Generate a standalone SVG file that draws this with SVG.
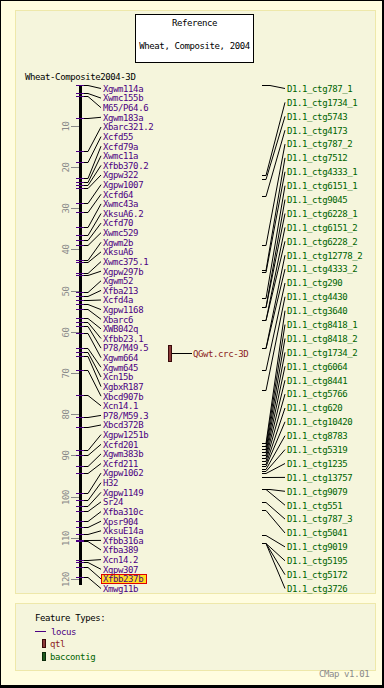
<svg xmlns="http://www.w3.org/2000/svg" width="384" height="688" viewBox="0 0 384 688">
<style>
text{font-family:"DejaVu Sans Mono","Liberation Mono",monospace;font-size:9px;letter-spacing:-0.4px}
.loc{fill:#4b0082}
.ctg{fill:#006400}
.blk{fill:#000}
.sc{fill:#8a8a8a}
.conn polyline,.conn line{stroke:#000;stroke-width:1;fill:none}
.tk{stroke:#4b0082;stroke-width:1}
.mj{stroke:#8a8a8a;stroke-width:1}
.panel{fill:#f5f5dc;stroke:#eee8aa;stroke-width:1}
</style>
<rect x="0.5" y="0.5" width="383" height="687" fill="#fffde0" stroke="#000" stroke-width="1"/>
<line x1="383" y1="0" x2="383" y2="688" stroke="#000" stroke-width="2"/>
<line x1="0" y1="686.5" x2="384" y2="686.5" stroke="#000" stroke-width="3"/>
<rect class="panel" x="15.5" y="10.5" width="360" height="583"/>
<rect class="panel" x="15.5" y="603.5" width="360" height="67"/>

<g id="title">
<rect x="135.5" y="14.5" width="118" height="48" fill="#fff" stroke="#000"/>
<text class="blk" x="194.5" y="26" text-anchor="middle">Reference</text>
<text class="blk" x="194.5" y="49.3" text-anchor="middle">Wheat, Composite, 2004</text>
</g>

<g id="map-title"><text class="blk" x="25" y="80">Wheat-Composite2004-3D</text></g>

<g id="axis">
<rect x="79" y="85" width="3" height="500" fill="#000"/>
<g class="mj">
<line x1="71" y1="126.5" x2="79" y2="126.5"/><line x1="71" y1="167.5" x2="79" y2="167.5"/>
<line x1="71" y1="208.5" x2="79" y2="208.5"/><line x1="71" y1="249.5" x2="79" y2="249.5"/>
<line x1="71" y1="291.5" x2="79" y2="291.5"/><line x1="71" y1="332.5" x2="79" y2="332.5"/>
<line x1="71" y1="373.5" x2="79" y2="373.5"/><line x1="71" y1="414.5" x2="79" y2="414.5"/>
<line x1="71" y1="455.5" x2="79" y2="455.5"/><line x1="71" y1="497.5" x2="79" y2="497.5"/>
<line x1="71" y1="538.5" x2="79" y2="538.5"/><line x1="71" y1="579.5" x2="79" y2="579.5"/>
</g>
<g class="sc" text-anchor="middle">
<text transform="translate(68.5,126.5) rotate(-90)">10</text>
<text transform="translate(68.5,167.5) rotate(-90)">20</text>
<text transform="translate(68.5,208.5) rotate(-90)">30</text>
<text transform="translate(68.5,249.5) rotate(-90)">40</text>
<text transform="translate(68.5,291.5) rotate(-90)">50</text>
<text transform="translate(68.5,332.5) rotate(-90)">60</text>
<text transform="translate(68.5,373.5) rotate(-90)">70</text>
<text transform="translate(68.5,414.5) rotate(-90)">80</text>
<text transform="translate(68.5,455.5) rotate(-90)">90</text>
<text transform="translate(68.5,497.5) rotate(-90)">100</text>
<text transform="translate(68.5,538.5) rotate(-90)">110</text>
<text transform="translate(68.5,579.5) rotate(-90)">120</text>
</g>
</g>

<g id="locus-ticks" class="tk">
<line x1="76" y1="85.5" x2="84" y2="85.5"/><line x1="76" y1="93.5" x2="84" y2="93.5"/><line x1="76" y1="96.5" x2="84" y2="96.5"/>
<line x1="76" y1="118.5" x2="84" y2="118.5"/><line x1="76" y1="151.5" x2="84" y2="151.5"/><line x1="76" y1="162.5" x2="84" y2="162.5"/>
<line x1="76" y1="178.5" x2="84" y2="178.5"/><line x1="76" y1="182.5" x2="84" y2="182.5"/><line x1="76" y1="185.5" x2="84" y2="185.5"/>
<line x1="76" y1="188.5" x2="84" y2="188.5"/><line x1="76" y1="203.5" x2="84" y2="203.5"/><line x1="76" y1="212.5" x2="84" y2="212.5"/>
<line x1="76" y1="227.5" x2="84" y2="227.5"/><line x1="76" y1="235.5" x2="84" y2="235.5"/><line x1="76" y1="240.5" x2="84" y2="240.5"/>
<line x1="76" y1="245.5" x2="84" y2="245.5"/><line x1="76" y1="260.5" x2="84" y2="260.5"/><line x1="76" y1="262.5" x2="84" y2="262.5"/>
<line x1="76" y1="273.5" x2="84" y2="273.5"/><line x1="76" y1="275.5" x2="84" y2="275.5"/><line x1="76" y1="292.5" x2="84" y2="292.5"/>
<line x1="76" y1="296.5" x2="84" y2="296.5"/><line x1="76" y1="300.5" x2="84" y2="300.5"/><line x1="76" y1="304.5" x2="84" y2="304.5"/>
<line x1="76" y1="309.5" x2="84" y2="309.5"/><line x1="76" y1="318.5" x2="84" y2="318.5"/><line x1="76" y1="322.5" x2="84" y2="322.5"/>
<line x1="76" y1="326.5" x2="84" y2="326.5"/><line x1="76" y1="333.5" x2="84" y2="333.5"/><line x1="76" y1="348.5" x2="84" y2="348.5"/>
<line x1="76" y1="352.5" x2="84" y2="352.5"/><line x1="76" y1="356.5" x2="84" y2="356.5"/><line x1="76" y1="370.5" x2="84" y2="370.5"/>
<line x1="76" y1="395.5" x2="84" y2="395.5"/><line x1="76" y1="417.5" x2="84" y2="417.5"/><line x1="76" y1="427.5" x2="84" y2="427.5"/>
<line x1="76" y1="450.5" x2="84" y2="450.5"/><line x1="76" y1="455.5" x2="84" y2="455.5"/><line x1="76" y1="466.5" x2="84" y2="466.5"/>
<line x1="76" y1="473.5" x2="84" y2="473.5"/><line x1="76" y1="493.5" x2="84" y2="493.5"/><line x1="76" y1="500.5" x2="84" y2="500.5"/>
<line x1="76" y1="506.5" x2="84" y2="506.5"/><line x1="76" y1="511.5" x2="84" y2="511.5"/><line x1="76" y1="521.5" x2="84" y2="521.5"/>
<line x1="76" y1="527.5" x2="84" y2="527.5"/><line x1="76" y1="534.5" x2="84" y2="534.5"/><line x1="76" y1="540.5" x2="84" y2="540.5"/>
<line x1="76" y1="541.5" x2="84" y2="541.5"/><line x1="76" y1="560.5" x2="84" y2="560.5"/><line x1="76" y1="562.5" x2="84" y2="562.5"/>
<line x1="76" y1="567.5" x2="84" y2="567.5"/><line x1="76" y1="577.5" x2="84" y2="577.5"/>
</g>

<g id="connectors" class="conn">
<polyline points="84,85.5 88,85.5 101,88.5"/>
<polyline points="84,93.5 88,93.5 101,98.1"/>
<polyline points="84,96.5 88,96.5 101,107.7"/>
<polyline points="84,118.5 88,118.5 101,117.3"/>
<polyline points="84,151.5 88,151.5 101,127"/>
<polyline points="84,162.5 88,162.5 101,136.6"/>
<polyline points="84,178.5 88,178.5 101,146.2"/>
<polyline points="84,182.5 88,182.5 101,155.8"/>
<polyline points="84,185.5 88,185.5 101,165.4"/>
<polyline points="84,188.5 88,188.5 101,175"/>
<polyline points="84,203.5 88,203.5 101,184.7"/>
<polyline points="84,212.5 88,212.5 101,194.3"/>
<polyline points="84,227.5 88,227.5 101,203.9"/>
<polyline points="84,235.5 88,235.5 101,213.5"/>
<polyline points="84,240.5 88,240.5 101,223.1"/>
<polyline points="84,245.5 88,245.5 101,232.7"/>
<polyline points="84,260.5 88,260.5 101,242.3"/>
<polyline points="84,262.5 88,262.5 101,251.9"/>
<polyline points="84,273.5 88,273.5 101,261.6"/>
<polyline points="84,275.5 88,275.5 101,271.2"/>
<polyline points="84,292.5 88,292.5 101,280.8"/>
<polyline points="84,296.5 88,296.5 101,290.4"/>
<polyline points="84,300.5 88,300.5 101,300"/>
<polyline points="84,304.5 88,304.5 101,309.6"/>
<polyline points="84,309.5 88,309.5 101,319.3"/>
<polyline points="84,318.5 88,318.5 101,328.9"/>
<polyline points="84,322.5 88,322.5 101,338.5"/>
<polyline points="84,326.5 88,326.5 101,348.1"/>
<polyline points="84,333.5 88,333.5 101,357.7"/>
<polyline points="84,348.5 88,348.5 101,367.3"/>
<polyline points="84,352.5 88,352.5 101,377"/>
<polyline points="84,356.5 88,356.5 101,386.6"/>
<polyline points="84,370.5 88,370.5 101,396.2"/>
<polyline points="84,395.5 88,395.5 101,405.8"/>
<polyline points="84,417.5 88,417.5 101,415.4"/>
<polyline points="84,427.5 88,427.5 101,425"/>
<polyline points="84,450.5 88,450.5 101,434.6"/>
<polyline points="84,455.5 88,455.5 101,444.3"/>
<polyline points="84,466.5 88,466.5 101,453.9"/>
<polyline points="84,473.5 88,473.5 101,463.5"/>
<polyline points="84,493.5 88,493.5 101,473.1"/>
<polyline points="84,500.5 88,500.5 101,482.7"/>
<polyline points="84,506.5 88,506.5 101,492.3"/>
<polyline points="84,511.5 88,511.5 101,501.9"/>
<polyline points="84,521.5 88,521.5 101,511.6"/>
<polyline points="84,527.5 88,527.5 101,521.2"/>
<polyline points="84,534.5 88,534.5 101,530.8"/>
<polyline points="84,540.5 88,540.5 101,540.4"/>
<polyline points="84,541.5 88,541.5 101,550"/>
<polyline points="84,560.5 88,560.5 101,559.6"/>
<polyline points="84,562.5 88,562.5 101,569.3"/>
<polyline points="84,567.5 88,567.5 101,578.9"/>
<polyline points="84,577.5 88,577.5 101,588.5"/>
<line x1="172" y1="353.5" x2="192" y2="353.5"/>
<polyline points="262,85.5 270,85.5 285,88.5"/>
<polyline points="262,175.5 266,175.5 285,102.4"/>
<polyline points="262,179.5 266,179.5 285,116.3"/>
<polyline points="262,196.5 266,196.5 285,130.2"/>
<polyline points="262,245.5 266,245.5 285,144.1"/>
<polyline points="262,270.5 266,270.5 285,157.9"/>
<polyline points="262,272.5 266,272.5 285,171.8"/>
<polyline points="262,298.5 266,298.5 285,185.7"/>
<polyline points="262,307.5 266,307.5 285,199.6"/>
<polyline points="262,307.5 266,307.5 285,213.5"/>
<polyline points="262,320.5 266,320.5 285,227.4"/>
<polyline points="262,320.5 266,320.5 285,241.3"/>
<polyline points="262,348.5 266,348.5 285,255.2"/>
<polyline points="262,348.5 266,348.5 285,269.1"/>
<polyline points="262,370.5 266,370.5 285,283"/>
<polyline points="262,390.5 266,390.5 285,296.8"/>
<polyline points="262,443.5 266,443.5 285,310.7"/>
<polyline points="262,446.5 266,446.5 285,324.6"/>
<polyline points="262,449.5 266,449.5 285,338.5"/>
<polyline points="262,452.5 266,452.5 285,352.4"/>
<polyline points="262,455.5 266,455.5 285,366.3"/>
<polyline points="262,458.5 266,458.5 285,380.2"/>
<polyline points="262,461.5 266,461.5 285,394.1"/>
<polyline points="262,464.5 266,464.5 285,408"/>
<polyline points="262,466.5 266,466.5 285,421.8"/>
<polyline points="262,469.5 266,469.5 285,435.7"/>
<polyline points="262,471.5 266,471.5 285,449.6"/>
<polyline points="262,473.5 266,473.5 285,463.5"/>
<polyline points="262,477.5 266,477.5 285,477.4"/>
<polyline points="262,489.5 270,489.5 285,491.3"/>
<polyline points="262,489.5 266,489.5 285,505.2"/>
<polyline points="262,502.5 266,502.5 285,519.1"/>
<polyline points="262,510.5 266,510.5 285,533"/>
<polyline points="262,535.5 266,535.5 285,546.9"/>
<polyline points="262,543.5 266,543.5 285,560.8"/>
<polyline points="262,543.5 266,543.5 285,574.7"/>
<polyline points="262,543.5 266,543.5 285,588.5"/>
</g>

<g id="loci" class="loc">
<text x="103" y="91.8">Xgwm114a</text>
<text x="103" y="101.4">Xwmc155b</text>
<text x="103" y="111">M65/P64.6</text>
<text x="103" y="120.6">Xgwm183a</text>
<text x="103" y="130.3">Xbarc321.2</text>
<text x="103" y="139.9">Xcfd55</text>
<text x="103" y="149.5">Xcfd79a</text>
<text x="103" y="159.1">Xwmc11a</text>
<text x="103" y="168.7">Xfbb370.2</text>
<text x="103" y="178.3">Xgpw322</text>
<text x="103" y="188">Xgpw1007</text>
<text x="103" y="197.6">Xcfd64</text>
<text x="103" y="207.2">Xwmc43a</text>
<text x="103" y="216.8">XksuA6.2</text>
<text x="103" y="226.4">Xcfd70</text>
<text x="103" y="236">Xwmc529</text>
<text x="103" y="245.6">Xgwm2b</text>
<text x="103" y="255.2">XksuA6</text>
<text x="103" y="264.9">Xwmc375.1</text>
<text x="103" y="274.5">Xgpw297b</text>
<text x="103" y="284.1">Xgwm52</text>
<text x="103" y="293.7">Xfba213</text>
<text x="103" y="303.3">Xcfd4a</text>
<text x="103" y="312.9">Xgpw1168</text>
<text x="103" y="322.6">Xbarc6</text>
<text x="103" y="332.2">XWB042q</text>
<text x="103" y="341.8">Xfbb23.1</text>
<text x="103" y="351.4">P78/M49.5</text>
<text x="103" y="361">Xgwm664</text>
<text x="103" y="370.6">Xgwm645</text>
<text x="103" y="380.3">Xcn15b</text>
<text x="103" y="389.9">XgbxR187</text>
<text x="103" y="399.5">Xbcd907b</text>
<text x="103" y="409.1">Xcn14.1</text>
<text x="103" y="418.7">P78/M59.3</text>
<text x="103" y="428.3">Xbcd372B</text>
<text x="103" y="437.9">Xgpw1251b</text>
<text x="103" y="447.6">Xcfd201</text>
<text x="103" y="457.2">Xgwm383b</text>
<text x="103" y="466.8">Xcfd211</text>
<text x="103" y="476.4">Xgpw1062</text>
<text x="103" y="486">H32</text>
<text x="103" y="495.6">Xgpw1149</text>
<text x="103" y="505.2">Sr24</text>
<text x="103" y="514.9">Xfba310c</text>
<text x="103" y="524.5">Xpsr904</text>
<text x="103" y="534.1">XksuE14a</text>
<text x="103" y="543.7">Xfbb316a</text>
<text x="103" y="553.3">Xfba389</text>
<text x="103" y="562.9">Xcn14.2</text>
<text x="103" y="572.6">Xgpw307</text>
<g id="highlight"><rect x="101.5" y="574.5" width="45" height="9" fill="#ffdd22" stroke="#e00000"/><text x="103" y="582.2">Xfbb237b</text></g>
<text x="103" y="591.8">Xmwg11b</text>
</g>

<g id="qtl">
<rect x="168.5" y="345.5" width="3" height="16" fill="#8b3a3a" stroke="#3a0a0a"/>
<text x="193" y="356.5" fill="#8b1a1a">QGwt.crc-3D</text>
</g>

<g id="contigs" class="ctg">
<text x="287" y="91.8">D1.1_ctg787_1</text>
<text x="287" y="105.7">D1.1_ctg1734_1</text>
<text x="287" y="119.6">D1.1_ctg5743</text>
<text x="287" y="133.5">D1.1_ctg4173</text>
<text x="287" y="147.4">D1.1_ctg787_2</text>
<text x="287" y="161.2">D1.1_ctg7512</text>
<text x="287" y="175.1">D1.1_ctg4333_1</text>
<text x="287" y="189">D1.1_ctg6151_1</text>
<text x="287" y="202.9">D1.1_ctg9045</text>
<text x="287" y="216.8">D1.1_ctg6228_1</text>
<text x="287" y="230.7">D1.1_ctg6151_2</text>
<text x="287" y="244.6">D1.1_ctg6228_2</text>
<text x="287" y="258.5">D1.1_ctg12778_2</text>
<text x="287" y="272.4">D1.1_ctg4333_2</text>
<text x="287" y="286.3">D1.1_ctg290</text>
<text x="287" y="300.1">D1.1_ctg4430</text>
<text x="287" y="314">D1.1_ctg3640</text>
<text x="287" y="327.9">D1.1_ctg8418_1</text>
<text x="287" y="341.8">D1.1_ctg8418_2</text>
<text x="287" y="355.7">D1.1_ctg1734_2</text>
<text x="287" y="369.6">D1.1_ctg6064</text>
<text x="287" y="383.5">D1.1_ctg8441</text>
<text x="287" y="397.4">D1.1_ctg5766</text>
<text x="287" y="411.3">D1.1_ctg620</text>
<text x="287" y="425.1">D1.1_ctg10420</text>
<text x="287" y="439">D1.1_ctg8783</text>
<text x="287" y="452.9">D1.1_ctg5319</text>
<text x="287" y="466.8">D1.1_ctg1235</text>
<text x="287" y="480.7">D1.1_ctg13757</text>
<text x="287" y="494.6">D1.1_ctg9079</text>
<text x="287" y="508.5">D1.1_ctg551</text>
<text x="287" y="522.4">D1.1_ctg787_3</text>
<text x="287" y="536.3">D1.1_ctg5041</text>
<text x="287" y="550.2">D1.1_ctg9019</text>
<text x="287" y="564.1">D1.1_ctg5195</text>
<text x="287" y="578">D1.1_ctg5172</text>
<text x="287" y="591.8">D1.1_ctg3726</text>
</g>

<g id="legend">
<text class="blk" x="35" y="620.5">Feature Types:</text>
<line x1="35" y1="631.5" x2="46" y2="631.5" stroke="#4b0082"/>
<text class="loc" x="51" y="635">locus</text>
<rect x="42.5" y="639.5" width="3" height="8" fill="#8b3a3a" stroke="#3a0a0a"/>
<text x="50" y="646.6" fill="#8b1a1a">qtl</text>
<rect x="42.5" y="652.5" width="3" height="8" fill="#1e5a1e" stroke="#0a2a0a"/>
<text class="ctg" x="50" y="660">baccontig</text>
<text class="sc" x="319" y="677">CMap v1.01</text>
</g>
</svg>
